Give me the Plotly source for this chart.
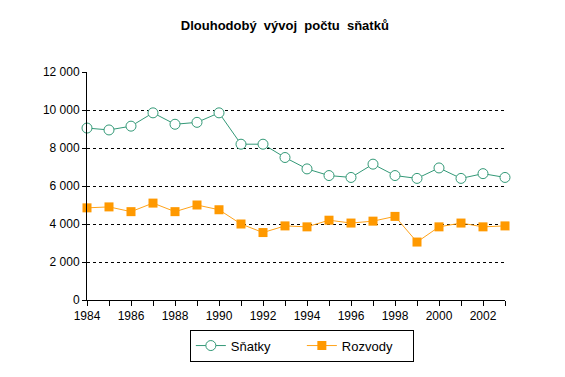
import plotly.graph_objects as go

years = list(range(1984, 2004))
snatky = [9050, 8950, 9150, 9850, 9250, 9350, 9850, 8200, 8200, 7500, 6900, 6550,
          6450, 7150, 6550, 6400, 6950, 6400, 6650, 6450]
rozvody = [4850, 4900, 4650, 5100, 4650, 5000, 4750, 4000, 3550, 3900, 3850, 4200,
           4050, 4150, 4400, 3050, 3850, 4050, 3850, 3900]
x_tick_labels = [str(y) if y % 2 == 0 else "" for y in years]
y_ticks = [0, 2000, 4000, 6000, 8000, 10000, 12000]
y_tick_labels = ["0", "2 000", "4 000", "6 000", "8 000", "10 000", "12 000"]

FONT = "Liberation Sans, Arial, sans-serif"

fig = go.Figure()
fig.add_trace(go.Scatter(
    x=years, y=snatky, name="Sňatky", mode="lines+markers",
    line=dict(color="#339977", width=1),
    marker=dict(symbol="circle", size=10, color="white",
                line=dict(color="#339977", width=1)),
    cliponaxis=False,
))
fig.add_trace(go.Scatter(
    x=years, y=rozvody, name="Rozvody", mode="lines+markers",
    line=dict(color="#FFA31A", width=1),
    marker=dict(symbol="square", size=9, color="#FF9900",
                line=dict(color="#FF9900", width=0)),
    cliponaxis=False,
))

fig.update_layout(
    width=565, height=377,
    margin=dict(l=79, r=68, t=64, b=85, autoexpand=False),
    paper_bgcolor="white", plot_bgcolor="white",
    font=dict(family=FONT, size=12, color="black"),
    title=dict(text="<b>Dlouhodobý  vývoj  počtu  sňatků</b>",
               x=0.49, xref="container", xanchor="center",
               y=0.955, yref="container", yanchor="middle",
               font=dict(family=FONT, size=13, color="black")),
    showlegend=True,
    legend=dict(orientation="h", x=0.514, xanchor="center",
                y=-0.2, yanchor="middle",
                bordercolor="black", borderwidth=1, bgcolor="white",
                font=dict(family=FONT, size=13, color="black"),
                itemwidth=30, entrywidth=66),
)
fig.update_xaxes(
    range=[1984, 2003], tickmode="array", tickvals=years, ticktext=x_tick_labels,
    tickangle=0, automargin=False,
    showgrid=False, zeroline=False, showline=True, linecolor="black", linewidth=1,
    ticks="outside", ticklen=5, tickcolor="black",
)
fig.update_yaxes(
    range=[0, 12000], tickmode="array", tickvals=y_ticks, ticktext=y_tick_labels,
    automargin=False,
    showgrid=True, gridcolor="black", gridwidth=1, griddash="3px,3px",
    zeroline=False, showline=True, linecolor="black", linewidth=1,
    ticks="outside", ticklen=4, tickcolor="black",
)

fig.write_html("out.html")
